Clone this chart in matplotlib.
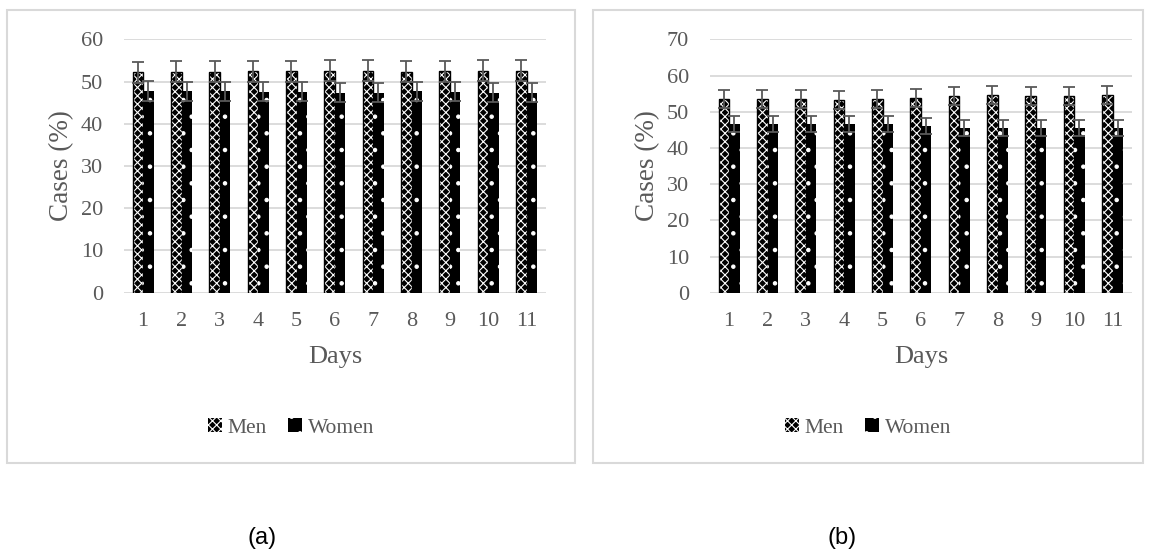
import matplotlib
matplotlib.use("Agg")
import matplotlib.pyplot as plt
from matplotlib.patches import Rectangle
import numpy as np

# Values
days = ["1", "2", "3", "4", "5", "6", "7", "8", "9", "10", "11"]

men_a = [52.2, 52.3, 52.3, 52.4, 52.4, 52.6, 52.6, 52.3, 52.4, 52.6, 52.6]
women_a = [47.8, 47.7, 47.7, 47.6, 47.6, 47.4, 47.4, 47.7, 47.6, 47.4, 47.4]
men_a_err = [2.5, 2.5, 2.5, 2.5, 2.5, 2.5, 2.5, 2.5, 2.5, 2.5, 2.5]
women_a_err = [2.3, 2.3, 2.3, 2.3, 2.3, 2.3, 2.3, 2.3, 2.3, 2.3, 2.3]

men_b = [53.4, 53.4, 53.4, 53.3, 53.5, 53.9, 54.4, 54.5, 54.4, 54.4, 54.6]
women_b = [46.6, 46.6, 46.6, 46.7, 46.5, 46.1, 45.6, 45.5, 45.6, 45.6, 45.4]
men_b_err = [2.5, 2.5, 2.5, 2.5, 2.5, 2.5, 2.5, 2.5, 2.5, 2.5, 2.5]
women_b_err = [2.2, 2.2, 2.2, 2.2, 2.2, 2.2, 2.2, 2.2, 2.2, 2.2, 2.2]

GRAY = "#595959"
LIGHT = "#d9d9d9"
MEN_HATCH = "xxxx"

plt.rcParams["font.family"] = ["Liberation Serif", "DejaVu Serif"]
plt.rcParams["hatch.linewidth"] = 0.8

W, H = 1151, 553
fig = plt.figure(figsize=(W / 100, H / 100), dpi=100)


def px_rect(x0, y0, x1, y1):
    # pixel box (top-left origin) -> figure fraction [l, b, w, h]
    return [x0 / W, 1 - y1 / H, (x1 - x0) / W, (y1 - y0) / H]


def draw_panel(box, ax_box, men, women, men_err, women_err, ymax, caption, cap_x):
    # light frame round the chart
    l, b, w, h = px_rect(*box)
    fig.patches.append(Rectangle((l, b), w, h, transform=fig.transFigure,
                                 fill=False, edgecolor=LIGHT, linewidth=1.5))

    ax = fig.add_axes(px_rect(*ax_box))
    x = np.arange(len(days))
    bw = 0.275

    # men: black bar with white lattice -> checkered look, plus black outline
    ax.bar(x - bw / 2, men, bw, color="black", edgecolor="white",
           hatch=MEN_HATCH, linewidth=0, zorder=3)
    ax.bar(x - bw / 2, men, bw, fill=False, edgecolor="black",
           linewidth=1.0, zorder=3)
    ax.bar(x + bw / 2, women, bw, color="black", edgecolor="white",
           hatch=".", linewidth=0, zorder=3)
    ax.errorbar(x - bw / 2, men, yerr=men_err, fmt="none", ecolor=GRAY,
                elinewidth=1.3, capsize=4, capthick=1.3, zorder=4)
    ax.errorbar(x + bw / 2, women, yerr=women_err, fmt="none", ecolor=GRAY,
                elinewidth=1.3, capsize=4, capthick=1.3, zorder=4)

    ax.set_xlim(-0.5, len(days) - 0.5)
    ax.set_ylim(0, ymax)
    ax.set_yticks(range(0, ymax + 1, 10))
    ax.set_xticks(x)
    ax.set_xticklabels(days)
    ax.grid(axis="y", color=LIGHT, linewidth=1.3, zorder=0)
    ax.set_axisbelow(True)
    for s in ax.spines.values():
        s.set_visible(False)
    ax.tick_params(axis="both", length=0, labelsize=16, colors=GRAY)
    ax.tick_params(axis="y", pad=15)
    ax.tick_params(axis="x", pad=14)
    ax.set_xlabel("Days", fontsize=19, color=GRAY, labelpad=11)
    ax.set_ylabel("Cases (%)", fontsize=19.5, color=GRAY, labelpad=5)

    # legend centred below the axes
    hm = Rectangle((0, 0), 1, 1, facecolor="black", edgecolor="white",
                   hatch=MEN_HATCH, linewidth=0)
    hw = Rectangle((0, 0), 1, 1, facecolor="black", edgecolor="white",
                   hatch=".", linewidth=0)
    cx = (box[0] + box[2]) / 2 / W
    fig.legend([hm, hw], ["Men", "Women"], loc="center",
               bbox_to_anchor=(cx, 1 - 428 / H), ncol=2, frameon=False,
               fontsize=15.5, handlelength=0.65, handleheight=0.65,
               handletextpad=0.25, columnspacing=1.0, labelcolor=GRAY)

    fig.text(cap_x / W, 1 - 538 / H, caption, ha="center", va="center",
             fontsize=17, family=["Liberation Sans", "DejaVu Sans"], color="black")
    return ax


draw_panel((7, 10, 575, 463), (124, 39.3, 545.7, 292.7),
           men_a, women_a, men_a_err, women_a_err, 60, "(a)", 262)
draw_panel((593, 10, 1143, 463), (710, 39.3, 1131.7, 292.7),
           men_b, women_b, men_b_err, women_b_err, 70, "(b)", 842)

fig.savefig("out.png", dpi=100)
